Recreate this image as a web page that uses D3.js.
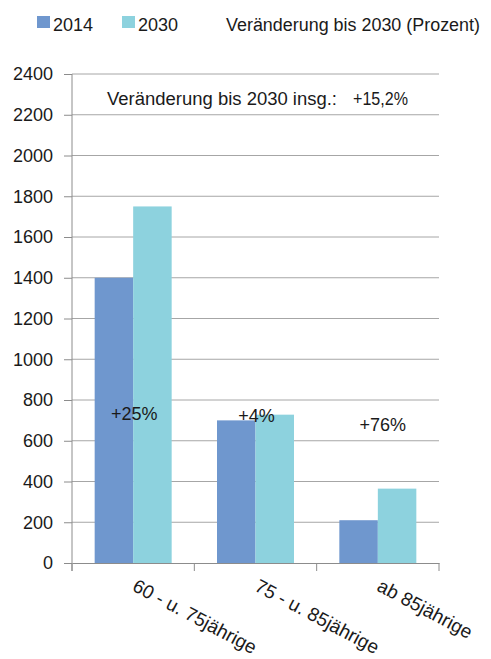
<!DOCTYPE html>
<html><head><meta charset="utf-8">
<script src="https://cdn.jsdelivr.net/npm/d3@7/dist/d3.min.js"></script>
<style>body{margin:0;background:#fff}svg{display:block}</style>
</head><body><svg id="c" width="491" height="659"></svg>
<script>
const categories = ["60 - u. 75jährige", "75 - u. 85jährige", "ab 85jährige"];
const seriesNames = ["2014", "2030"];
const values2014 = [1400, 700, 210];
const values2030 = [1750, 728, 365];
const changeLabels = ["+25%", "+4%", "+76%"];
const yTicks = [0,200,400,600,800,1000,1200,1400,1600,1800,2000,2200,2400];
const totalLabel = "Veränderung bis 2030 insg.:";
const totalValue = "+15,2%";
const legendNote = "Veränderung bis 2030 (Prozent)";
const colors = ["#6f97ce", "#8dd2de"];

const FONT = "'Liberation Sans Narrow','Arial Narrow','Liberation Sans',Arial,sans-serif";
const FS = 18;
const TXT = "#1a1a1a";
const svg = d3.select("#c");
const L = 72, R = 439, T = 74, B = 563;
const x = d3.scaleBand().domain(categories).range([L, R]).paddingInner(0).paddingOuter(0);
const y = d3.scaleLinear().domain([0, 2400]).range([B, T]);
const groupW = 77;
const x1 = d3.scaleBand().domain(seriesNames).range([0, groupW]);

// gridlines
svg.append("g").selectAll("line").data(yTicks.filter(d=>d>0)).join("line")
  .attr("x1", L).attr("x2", R).attr("y1", d=>y(d)).attr("y2", d=>y(d))
  .attr("stroke", "#a6a6a6").attr("stroke-width", 1);

// bars
const data = categories.map((c,i)=>({c, v:[values2014[i], values2030[i]]}));
const g = svg.append("g").selectAll("g").data(data).join("g")
  .attr("transform", d=>`translate(${x(d.c) + (x.bandwidth()-groupW)/2},0)`);
g.selectAll("rect").data(d=>d.v.map((v,j)=>({v, s:seriesNames[j], j}))).join("rect")
  .attr("x", d=>x1(d.s)).attr("width", x1.bandwidth())
  .attr("y", d=>y(d.v)).attr("height", d=>B - y(d.v))
  .attr("fill", d=>colors[d.j]);

// y axis
const ya = svg.append("g").attr("transform", `translate(${L},0)`)
  .call(d3.axisLeft(y).tickValues(yTicks).tickFormat(d3.format("d")).tickSize(8).tickSizeOuter(0).tickPadding(11));
ya.select(".domain").attr("stroke", "#8c8c8c").attr("d", `M0,${T}V${B+8}`);
ya.selectAll(".tick line").attr("stroke", "#8c8c8c");
ya.selectAll(".tick text").attr("font-family", FONT).attr("font-size", FS).attr("fill", TXT);

// x axis
const xa = svg.append("g").attr("transform", `translate(0,${B})`)
  .call(d3.axisBottom(x).tickSize(0).tickFormat(""));
xa.select(".domain").attr("stroke", "#8c8c8c");
xa.selectAll(".tick").remove();
const bounds = [L, ...categories.map(c=>x(c)+x.bandwidth())];
xa.selectAll("line.b").data(bounds).join("line").attr("class","b")
  .attr("x1", d=>d).attr("x2", d=>d).attr("y1", 0).attr("y2", 8).attr("stroke", "#8c8c8c");

// x labels
svg.append("g").selectAll("text").data(categories).join("text")
  .attr("transform", d=>`translate(${x(d)+x.bandwidth()/2-2},${B+27}) rotate(28)`)
  .attr("font-family", FONT).attr("font-size", 19).attr("fill", TXT)
  .text(d=>d);

// change labels
const lblPos = [[x(categories[0])+x.bandwidth()/2+1, 420], [x(categories[1])+x.bandwidth()/2+1, 422], [x(categories[2])+x.bandwidth()/2+5, 431]];
svg.append("g").selectAll("text").data(changeLabels).join("text")
  .attr("x", (d,i)=>lblPos[i][0]).attr("y", (d,i)=>lblPos[i][1])
  .attr("text-anchor", "middle").attr("font-family", FONT).attr("font-size", FS).attr("fill", TXT)
  .text(d=>d);

// total
svg.append("text").attr("x", 107).attr("y", 105).attr("font-family", FONT).attr("font-size", FS).attr("fill", TXT)
  .attr("textLength", 230).attr("lengthAdjust", "spacingAndGlyphs").text(totalLabel);
svg.append("text").attr("x", 353).attr("y", 105).attr("font-family", FONT).attr("font-size", FS).attr("fill", TXT)
  .attr("textLength", 55).attr("lengthAdjust", "spacingAndGlyphs").text(totalValue);

// legend
const leg = svg.append("g");
const legX = [37, 122];
seriesNames.forEach((s,i)=>{
  leg.append("rect").attr("x", legX[i]).attr("y", 16).attr("width", 13).attr("height", 12).attr("fill", colors[i]);
  leg.append("text").attr("x", legX[i]+16).attr("y", 31).attr("font-family", FONT).attr("font-size", FS).attr("fill", TXT).text(s);
});
leg.append("text").attr("x", 226).attr("y", 31).attr("font-family", FONT).attr("font-size", FS).attr("fill", TXT)
  .attr("textLength", 254).attr("lengthAdjust", "spacingAndGlyphs").text(legendNote);
</script></body></html>
